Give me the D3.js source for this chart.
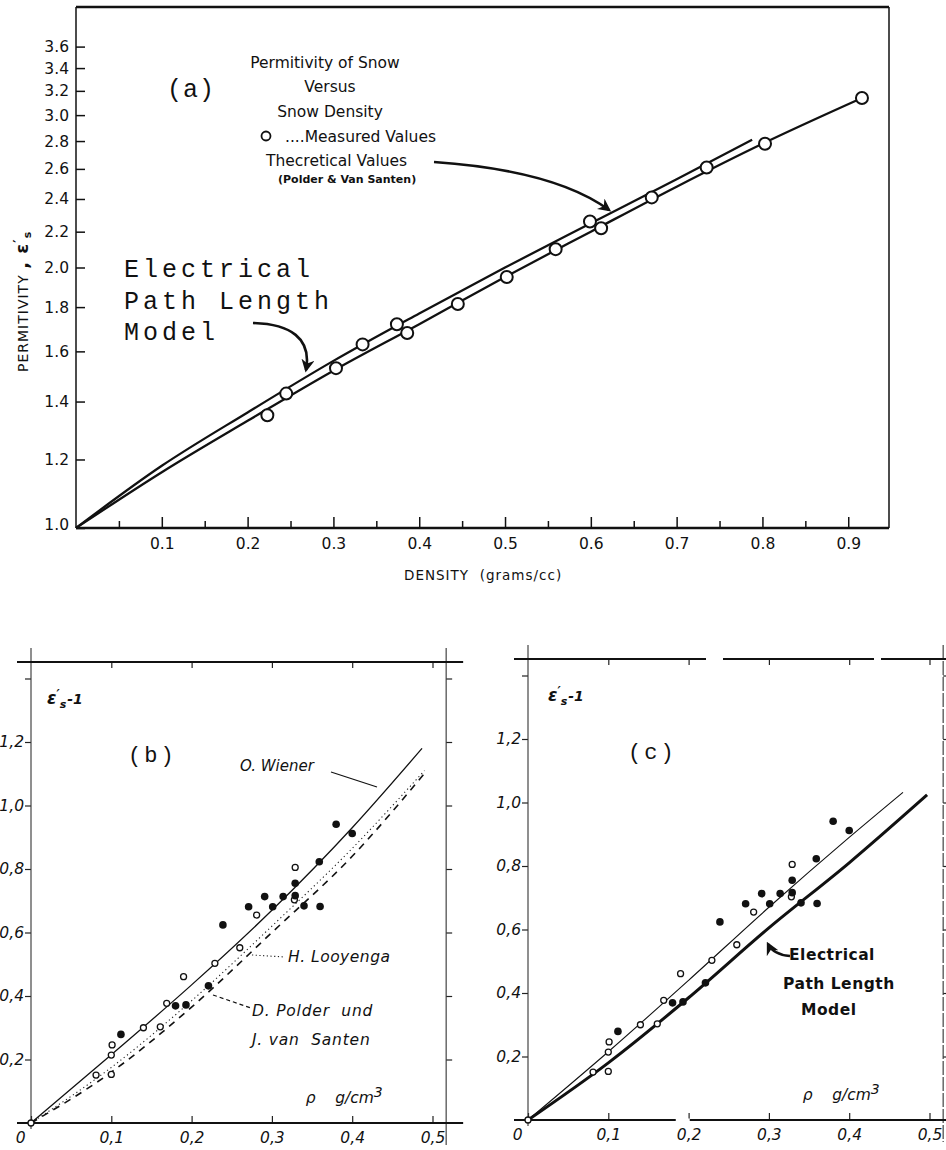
<!DOCTYPE html>
<html>
<head>
<meta charset="utf-8">
<script src="https://cdn.jsdelivr.net/npm/d3@7"></script>
<style>
  body { margin: 0; background: #fff; }
  text { fill: #111; white-space: pre; }
</style>
</head>
<body>
<div id="chart"></div>
<script>
// ---- panel (a): permittivity vs density (log scale on y)
var measuredA = [[0.223, 1.35], [0.245, 1.43], [0.303, 1.53], [0.334, 1.63], [0.374, 1.72],
  [0.386, 1.68], [0.445, 1.815], [0.502, 1.95], [0.559, 2.10], [0.599, 2.26], [0.612, 2.22],
  [0.671, 2.41], [0.735, 2.61], [0.803, 2.78], [0.916, 3.14]];
var pathModelA = [[0, 1], [0.1, 1.16], [0.2, 1.33], [0.3, 1.52], [0.4, 1.72], [0.5, 1.95],
  [0.6, 2.2], [0.7, 2.48], [0.8, 2.78], [0.916, 3.14]];
var polderA = [[0, 1], [0.1, 1.18], [0.2, 1.36], [0.3, 1.56], [0.4, 1.77], [0.5, 2.0],
  [0.6, 2.25], [0.7, 2.53], [0.788, 2.81]];
var yTicksA = [1.0, 1.2, 1.4, 1.6, 1.8, 2.0, 2.2, 2.4, 2.6, 2.8, 3.0, 3.2, 3.4, 3.6];
var xTicksA = [0.1, 0.2, 0.3, 0.4, 0.5, 0.6, 0.7, 0.8, 0.9];
var xMinorA = [0.05, 0.15, 0.25, 0.35, 0.45, 0.55, 0.65, 0.75, 0.85];

// ---- panels (b) and (c): eps' - 1 vs density
var filledBC = [[0.112, 0.279], [0.180, 0.369], [0.193, 0.372], [0.221, 0.432], [0.239, 0.624],
  [0.271, 0.681], [0.291, 0.713], [0.301, 0.681], [0.314, 0.713], [0.329, 0.716], [0.329, 0.755],
  [0.340, 0.684], [0.360, 0.682], [0.359, 0.823], [0.380, 0.941], [0.400, 0.912]];
var openBC = [[0, 0], [0.081, 0.151], [0.100, 0.153], [0.100, 0.214], [0.101, 0.246], [0.140, 0.300],
  [0.161, 0.303], [0.169, 0.377], [0.190, 0.461], [0.229, 0.503], [0.260, 0.552], [0.281, 0.655],
  [0.328, 0.703], [0.329, 0.805]];
var wienerB = [[0, 0], [0.1, 0.215], [0.2, 0.435], [0.3, 0.67], [0.4, 0.93], [0.487, 1.18]];
var looyengaB = [[0, 0], [0.1, 0.175], [0.2, 0.385], [0.3, 0.62], [0.4, 0.865], [0.49, 1.11]];
var polderB = [[0, 0], [0.1, 0.16], [0.2, 0.365], [0.3, 0.6], [0.4, 0.84], [0.493, 1.11]];
var fitC = [[0, 0], [0.1, 0.215], [0.2, 0.44], [0.3, 0.67], [0.4, 0.89], [0.467, 1.032]];
var pathModelC = [[0, 0], [0.1, 0.18], [0.2, 0.385], [0.3, 0.605], [0.4, 0.81], [0.497, 1.024]];
var yTicksBC = [0.2, 0.4, 0.6, 0.8, 1.0, 1.2, 1.4];
var yLabelsBC = ["0,2", "0,4", "0,6", "0,8", "1,0", "1,2", ""];
var xTicksBC = [0, 0.1, 0.2, 0.3, 0.4, 0.5];
var xLabelsBC = ["0", "0,1", "0,2", "0,3", "0,4", "0,5"];

var svg = d3.select("#chart").append("svg")
  .attr("width", 946)
  .attr("height", 1150)
  .style("background", "#fff");

var defs = svg.append("defs");
defs.append("marker")
  .attr("id", "head")
  .attr("viewBox", "0 0 10 10")
  .attr("refX", 8).attr("refY", 5)
  .attr("markerWidth", 5).attr("markerHeight", 5)
  .attr("markerUnits", "strokeWidth")
  .attr("orient", "auto")
  .append("path")
  .attr("d", "M0,0 L10,5 L0,10 L3,5 z")
  .attr("fill", "#111");

var sans = "'DejaVu Sans', sans-serif";
var mono = "'Liberation Mono', 'DejaVu Sans Mono', monospace";

// ================= PANEL (a)
var xA = d3.scaleLinear().domain([0, 0.9475]).range([76, 889]);
var yA = d3.scaleLog().domain([1, 4]).range([528, 7]);
var gA = svg.append("g");

var yAxA = gA.append("g")
  .attr("transform", "translate(" + xA(0) + ",0)")
  .call(d3.axisLeft(yA).tickValues(yTicksA).tickFormat(d3.format(".1f")).tickSize(-9).tickPadding(7));
var xAxA = gA.append("g")
  .attr("transform", "translate(0," + yA(1) + ")")
  .call(d3.axisBottom(xA).tickValues(xTicksA).tickFormat(d3.format(".1f")).tickSize(-11).tickPadding(10));
var xMinA = gA.append("g")
  .attr("transform", "translate(0," + yA(1) + ")")
  .call(d3.axisBottom(xA).tickValues(xMinorA).tickFormat("").tickSize(-7));
[yAxA, xAxA, xMinA].forEach(function(a) {
  a.select(".domain").remove();
  a.selectAll("line").attr("stroke", "#111").attr("stroke-width", 1.5);
  a.selectAll("text").attr("font-family", sans).attr("font-size", 15.5).attr("fill", "#111");
});
yAxA.select(".tick text").attr("dy", "0.1em");

// frame
gA.append("line").attr("x1", xA(0)).attr("x2", xA(0.9475)).attr("y1", 7).attr("y2", 7)
  .attr("stroke", "#111").attr("stroke-width", 2.5);
gA.append("line").attr("x1", xA(0)).attr("x2", xA(0.9475)).attr("y1", yA(1)).attr("y2", yA(1))
  .attr("stroke", "#111").attr("stroke-width", 2.5);
gA.append("line").attr("x1", xA(0)).attr("x2", xA(0)).attr("y1", 7).attr("y2", yA(1))
  .attr("stroke", "#111").attr("stroke-width", 1.5);
gA.append("line").attr("x1", xA(0.9475)).attr("x2", xA(0.9475)).attr("y1", 7).attr("y2", yA(1))
  .attr("stroke", "#111").attr("stroke-width", 1.5);

var lineA = d3.line().x(d => xA(d[0])).y(d => yA(d[1])).curve(d3.curveMonotoneX);
[pathModelA, polderA].forEach(function(s) {
  gA.append("path").datum(s).attr("d", lineA)
    .attr("fill", "none").attr("stroke", "#111").attr("stroke-width", 2.3);
});
gA.selectAll("circle.meas")
  .data(measuredA)
  .enter().append("circle")
  .attr("class", "meas")
  .attr("cx", d => xA(d[0]))
  .attr("cy", d => yA(d[1]))
  .attr("r", 6)
  .attr("fill", "#fff")
  .attr("stroke", "#111")
  .attr("stroke-width", 2);

// legend / titles
gA.append("text").attr("x", 167).attr("y", 97).attr("font-family", mono).attr("font-size", 25)
  .attr("letter-spacing", 1).text("(a)");
var leg = [["Permitivity of Snow", 325, 68], ["Versus", 330, 92], ["Snow Density", 330, 117]];
leg.forEach(function(t) {
  gA.append("text").attr("x", t[1]).attr("y", t[2]).attr("text-anchor", "middle")
    .attr("font-family", sans).attr("font-size", 15.5).text(t[0]);
});
gA.append("circle").attr("cx", 266).attr("cy", 136).attr("r", 4.5)
  .attr("fill", "none").attr("stroke", "#111").attr("stroke-width", 1.8);
gA.append("text").attr("x", 285).attr("y", 142).attr("font-family", sans).attr("font-size", 15.5)
  .text("....Measured Values");
gA.append("text").attr("x", 266).attr("y", 166).attr("font-family", sans).attr("font-size", 15.5)
  .text("Thecretical Values");
gA.append("text").attr("x", 278).attr("y", 183).attr("font-family", sans).attr("font-size", 11)
  .attr("font-weight", "bold").text("(Polder & Van Santen)");
gA.append("path")
  .attr("d", "M434,162 C520,168 575,185 609,210")
  .attr("fill", "none").attr("stroke", "#111").attr("stroke-width", 2.6)
  .attr("marker-end", "url(#head)");

["Electrical", "Path Length", "Model"].forEach(function(t, i) {
  gA.append("text").attr("x", 124).attr("y", 277 + i * 31.5)
    .attr("font-family", mono).attr("font-size", 25).attr("letter-spacing", 4)
    .text(t);
});
gA.append("path")
  .attr("d", "M253,323 C290,324 312,338 306,370")
  .attr("fill", "none").attr("stroke", "#111").attr("stroke-width", 2.6)
  .attr("marker-end", "url(#head)");

// axis titles
gA.append("text").attr("x", 404).attr("y", 580).attr("font-family", sans).attr("font-size", 13.5)
  .attr("letter-spacing", 1).text("DENSITY  (grams/cc)");
var yt = gA.append("text").attr("transform", "translate(28,372) rotate(-90)")
  .attr("font-family", sans).attr("font-size", 14).attr("letter-spacing", 1);
yt.append("tspan").text("PERMITIVITY ");
yt.append("tspan").attr("font-weight", "bold").attr("font-size", 18).text(", ε");
yt.append("tspan").attr("font-size", 13).attr("font-weight", "bold").attr("dy", -6).text("′");
yt.append("tspan").attr("font-size", 11).attr("font-weight", "bold").attr("dy", 9).text("s");

// ================= PANELS (b) and (c)
function drawPanel(ox, oy, tag) {
  var x = d3.scaleLinear().domain([0, 0.5]).range([ox, ox + 401.5]);
  var y = d3.scaleLinear().domain([0, 1.2]).range([oy, oy - 381]);
  var g = svg.append("g");
  var right = x(0.517), top = y(1.452);

  var axL = g.append("g").attr("transform", "translate(" + x(0) + ",0)")
    .call(d3.axisLeft(y).tickValues(yTicksBC).tickFormat((d, i) => yLabelsBC[i]).tickSize(6).tickPadding(1));
  var axR = g.append("g").attr("transform", "translate(" + right + ",0)")
    .call(d3.axisRight(y).tickValues(yTicksBC).tickFormat("").tickSize(6));
  var axT = g.append("g").attr("transform", "translate(0," + top + ")")
    .call(d3.axisTop(x).tickValues(xTicksBC.slice(1)).tickFormat("").tickSize(-6));
  var axB = g.append("g").attr("transform", "translate(0," + y(0) + ")")
    .call(d3.axisBottom(x).tickValues(xTicksBC).tickFormat((d, i) => xLabelsBC[i]).tickSize(-7).tickPadding(9));
  [axL, axR, axT, axB].forEach(function(a) {
    a.select(".domain").remove();
    a.selectAll("line").attr("stroke", "#222").attr("stroke-width", 1.2);
    a.selectAll("text").attr("font-family", sans).attr("font-style", "italic")
      .attr("font-size", 15.5).attr("fill", "#111");
  });
  axB.selectAll(".tick").filter(d => d === 0).select("text")
    .attr("text-anchor", "end").attr("x", -6);

  // frame lines
  g.append("line").attr("x1", x(0)).attr("x2", x(0)).attr("y1", top - 14).attr("y2", y(0) + 6)
    .attr("stroke", "#333").attr("stroke-width", 1.1);
  g.append("line").attr("x1", right).attr("x2", right).attr("y1", top - 14).attr("y2", y(0) + 22)
    .attr("stroke", "#333").attr("stroke-width", 1.1).attr("stroke-dasharray", tag === "c" ? "14,2" : null);
  g.append("line").attr("x1", x(0) - 14).attr("x2", right + 17).attr("y1", y(0)).attr("y2", y(0))
    .attr("stroke", "#111").attr("stroke-width", 1.8);
  if (tag === "b") {
    g.append("line").attr("x1", x(0) - 14).attr("x2", right + 17).attr("y1", top).attr("y2", top)
      .attr("stroke", "#111").attr("stroke-width", 1.8);
  } else {
    [[-14, 178], [195, 346], [353, 418]].forEach(function(s) {
      g.append("line").attr("x1", x(0) + s[0]).attr("x2", x(0) + s[1]).attr("y1", top).attr("y2", top)
        .attr("stroke", "#111").attr("stroke-width", 1.8);
    });
    g.append("rect").attr("x", x(0.184)).attr("y", y(0) - 1.5).attr("width", 14).attr("height", 3).attr("fill", "#fff");
  }

  // labels
  var lab = g.append("text").attr("x", x(0) + (tag === "b" ? 16 : 20)).attr("y", y(1.32))
    .attr("font-family", sans).attr("font-style", "italic").attr("font-weight", "bold").attr("font-size", 17);
  lab.append("tspan").text("ε");
  lab.append("tspan").attr("font-size", 12).attr("dy", -6).text("′");
  lab.append("tspan").attr("font-size", 11).attr("dy", 10).text("s");
  lab.append("tspan").attr("font-size", 14).attr("dx", 1).attr("dy", -4).text("-1");
  g.append("text").attr("x", x(0) + (tag === "b" ? 97 : 100)).attr("y", y(1.2) + 20)
    .attr("font-family", mono).attr("font-size", 22).attr("letter-spacing", 3)
    .text("(" + tag + ")");
  var rho = g.append("text").attr("x", x(0.342)).attr("y", y(0) - 20)
    .attr("font-family", sans).attr("font-style", "italic").attr("font-size", 15.5);
  rho.append("tspan").text("ρ    g/cm");
  rho.append("tspan").attr("dy", -6).attr("font-size", 14).text("3");
  return {x: x, y: y, g: g};
}

function drawPoints(p) {
  p.g.selectAll("circle.open")
    .data(openBC)
    .enter().append("circle").attr("class", "open")
    .attr("cx", d => p.x(d[0])).attr("cy", d => p.y(d[1]))
    .attr("r", 3).attr("fill", "#fff").attr("stroke", "#111").attr("stroke-width", 1.3);
  p.g.selectAll("circle.full")
    .data(filledBC)
    .enter().append("circle").attr("class", "full")
    .attr("cx", d => p.x(d[0])).attr("cy", d => p.y(d[1]))
    .attr("r", 3.8).attr("fill", "#111");
}

// (b)
var pB = drawPanel(31, 1123, "b");
var lineB = d3.line().x(d => pB.x(d[0])).y(d => pB.y(d[1])).curve(d3.curveMonotoneX);
pB.g.append("path").datum(wienerB).attr("d", lineB)
  .attr("fill", "none").attr("stroke", "#111").attr("stroke-width", 1.3);
pB.g.append("path").datum(looyengaB).attr("d", lineB)
  .attr("fill", "none").attr("stroke", "#222").attr("stroke-width", 1.1).attr("stroke-dasharray", "1.2,3");
pB.g.append("path").datum(polderB).attr("d", lineB)
  .attr("fill", "none").attr("stroke", "#111").attr("stroke-width", 1.6).attr("stroke-dasharray", "7,6");
drawPoints(pB);
pB.g.append("text").attr("x", 240).attr("y", 771).attr("font-family", sans).attr("font-style", "italic")
  .attr("font-size", 15).text("O. Wiener");
pB.g.append("line").attr("x1", 331).attr("y1", 772).attr("x2", 377).attr("y2", 787)
  .attr("stroke", "#111").attr("stroke-width", 1.2);
pB.g.append("text").attr("x", 288).attr("y", 962).attr("font-family", sans).attr("font-style", "italic")
  .attr("font-size", 15.5).attr("letter-spacing", 0.5).text("H. Looyenga");
pB.g.append("line").attr("x1", 252).attr("y1", 955).attr("x2", 285).attr("y2", 957)
  .attr("stroke", "#222").attr("stroke-width", 1.1).attr("stroke-dasharray", "1.2,2.5");
pB.g.append("text").attr("x", 252).attr("y", 1016).attr("font-family", sans).attr("font-style", "italic")
  .attr("font-size", 15.5).attr("letter-spacing", 0.8).text("D. Polder  und");
pB.g.append("text").attr("x", 252).attr("y", 1045).attr("font-family", sans).attr("font-style", "italic")
  .attr("font-size", 15.5).attr("letter-spacing", 0.8).text("J. van  Santen");
pB.g.append("line").attr("x1", 213).attr("y1", 995).attr("x2", 251).attr("y2", 1008)
  .attr("stroke", "#111").attr("stroke-width", 1.2).attr("stroke-dasharray", "4,3");

// (c)
var pC = drawPanel(528, 1120, "c");
var lineC = d3.line().x(d => pC.x(d[0])).y(d => pC.y(d[1])).curve(d3.curveMonotoneX);
pC.g.append("path").datum(fitC).attr("d", lineC)
  .attr("fill", "none").attr("stroke", "#111").attr("stroke-width", 1.1);
pC.g.append("path").datum(pathModelC).attr("d", lineC)
  .attr("fill", "none").attr("stroke", "#111").attr("stroke-width", 3);
drawPoints(pC);
[["Electrical", 789, 960], ["Path Length", 783, 989], ["Model", 801, 1015]].forEach(function(t) {
  pC.g.append("text").attr("x", t[1]).attr("y", t[2]).attr("font-family", sans)
    .attr("font-weight", "bold").attr("font-size", 15.5).attr("letter-spacing", 0.5).text(t[0]);
});
pC.g.append("path")
  .attr("d", "M790,956 C778,955 771,950 768,944")
  .attr("fill", "none").attr("stroke", "#111").attr("stroke-width", 2.6)
  .attr("marker-end", "url(#head)");
</script>
</body>
</html>
